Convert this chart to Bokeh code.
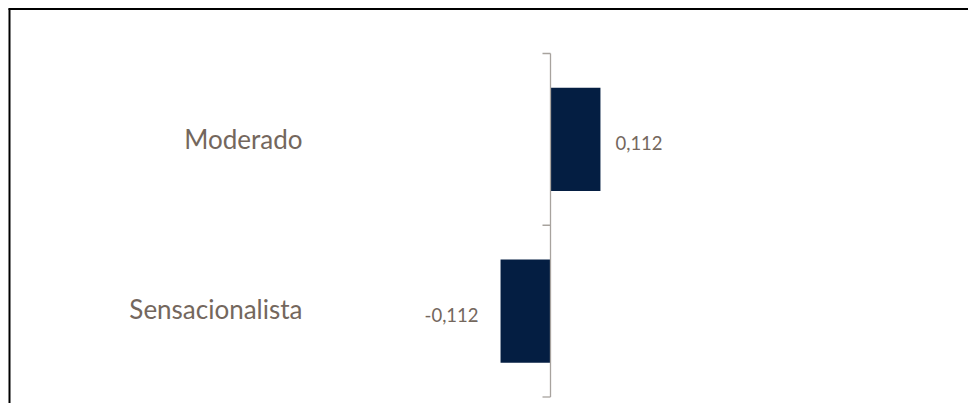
from bokeh.plotting import figure
from bokeh.models import Range1d, ColumnDataSource
from bokeh.core.properties import value
from bokeh.embed import file_html
from bokeh.resources import INLINE

# Data
categories = ["Moderado", "Sensacionalista"]
values = [0.112, -0.112]

W, H = 968, 403
BAR_COLOR = "#041E42"
TEXT_COLOR = "#74675D"
AXIS_COLOR = "#A8A39E"
FONT = "Lato"

# Pixel layout of the plotting area (frame covers the whole canvas)
zero_px = 550.0          # horizontal position of the value axis
px_per_unit_x = 446.0    # horizontal scale
top_px, bottom_px = 53.0, 396.5   # top and bottom of the category band
n = len(categories)
px_per_unit_y = (bottom_px - top_px) / n

x_start = -zero_px / px_per_unit_x
x_end = (W - zero_px) / px_per_unit_x
y_start = -(H - bottom_px) / px_per_unit_y
y_end = n + top_px / px_per_unit_y


def xd(px):
    return x_start + px / px_per_unit_x


def yd(px):
    return y_end - px / px_per_unit_y


p = figure(width=W, height=H, output_backend="svg", toolbar_location=None,
           x_range=Range1d(x_start, x_end), y_range=Range1d(y_start, y_end),
           min_border=0)
p.axis.visible = False
p.grid.visible = False
p.outline_line_color = None
p.background_fill_color = "white"
p.border_fill_color = "white"

# Category centres: first category on top
ypos = [n - i - 0.5 for i in range(n)]
labels = [f"{v:.3f}".replace(".", ",") for v in values]

src = ColumnDataSource(dict(cat=categories, val=values, y=ypos, lab=labels))

# Bars
p.hbar(y="y", left=0, right="val", height=0.6, source=src,
       fill_color=BAR_COLOR, line_color=None)

# Value axis line and tick marks at category boundaries
p.segment(x0=[0], y0=[0], x1=[0], y1=[n], line_color=AXIS_COLOR, line_width=1.3)
tick_len = 8 / px_per_unit_x
bounds = list(range(n + 1))
p.segment(x0=[-tick_len] * len(bounds), y0=bounds, x1=[0] * len(bounds), y1=bounds,
          line_color=AXIS_COLOR, line_width=1.3)

# Data labels
pos = [i for i, v in enumerate(values) if v >= 0]
neg = [i for i, v in enumerate(values) if v < 0]
gap_pos = 15 / px_per_unit_x
gap_neg = 22 / px_per_unit_x
p.text(x=[values[i] + gap_pos for i in pos], y=[ypos[i] for i in pos],
       text=[labels[i] for i in pos], text_align="left", text_baseline="middle",
       y_offset=4, text_font=value(FONT), text_font_size="18.5px", text_color=TEXT_COLOR)
p.text(x=[values[i] - gap_neg for i in neg], y=[ypos[i] for i in neg],
       text=[labels[i] for i in neg], text_align="right", text_baseline="middle",
       y_offset=4, text_font=value(FONT), text_font_size="18.5px", text_color=TEXT_COLOR)

# Category labels, right-aligned at a fixed column
p.text(x=[xd(302)] * n, y=ypos, text=categories, text_align="right",
       text_baseline="middle", y_offset=[0, -2], text_font=value(FONT),
       text_font_size="26px", text_color=TEXT_COLOR)

# Chart border (top and left edges)
p.segment(x0=[xd(8)], y0=[yd(8.5)], x1=[xd(W)], y1=[yd(8.5)],
          line_color="black", line_width=2)
p.segment(x0=[xd(9)], y0=[yd(8)], x1=[xd(9)], y1=[yd(H)],
          line_color="black", line_width=2)

open("out.html", "w").write(file_html(p, INLINE))
